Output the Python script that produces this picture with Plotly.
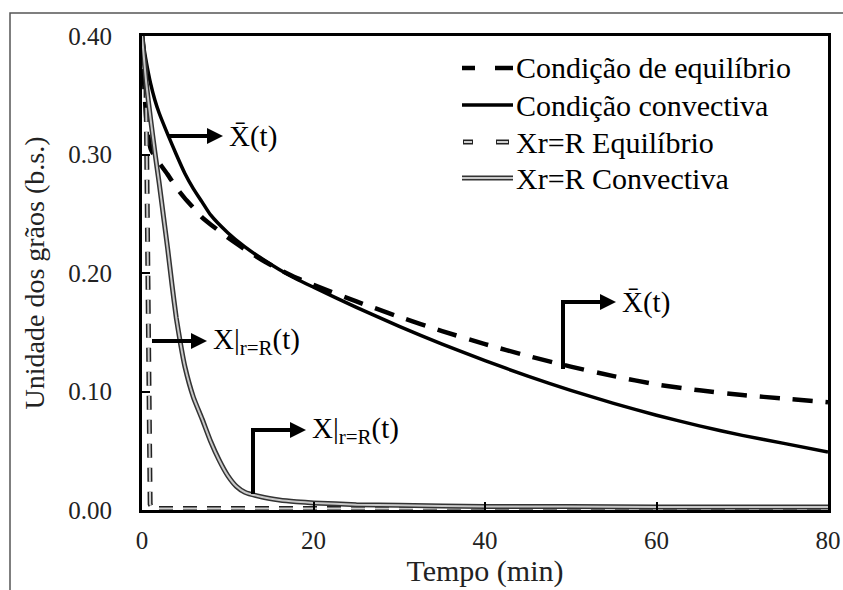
import plotly.graph_objects as go

# ---------------- data ----------------
t_main = [0, 0.5, 1, 1.5, 2, 3, 4, 5, 6, 7, 8, 10, 12, 14, 16, 18, 20, 25, 30,
          35, 40, 45, 50, 55, 60, 65, 70, 75, 80]
x_conv = [0.400, 0.378, 0.360, 0.346, 0.335, 0.317, 0.300, 0.284, 0.271, 0.260,
          0.249, 0.234, 0.222, 0.212, 0.203, 0.195, 0.188, 0.171, 0.155, 0.140,
          0.126, 0.113, 0.101, 0.090, 0.080, 0.071, 0.063, 0.056, 0.049]
x_equi = [0.400, 0.330, 0.305, 0.298, 0.293, 0.283, 0.272, 0.263, 0.255, 0.247,
          0.241, 0.230, 0.220, 0.211, 0.203, 0.196, 0.190, 0.176, 0.163, 0.151,
          0.140, 0.130, 0.121, 0.113, 0.106, 0.101, 0.097, 0.094, 0.091]

t_surf_conv = [0, 0.5, 1, 1.5, 2, 2.5, 3, 3.5, 4, 4.5, 5, 6, 7, 8, 9, 10, 11, 12,
               14, 16, 18, 20, 25, 30, 40, 50, 60, 70, 80]
x_surf_conv = [0.400, 0.360, 0.330, 0.302, 0.276, 0.248, 0.220, 0.190, 0.162,
               0.140, 0.121, 0.095, 0.077, 0.058, 0.042, 0.029, 0.020, 0.015,
               0.011, 0.0085, 0.007, 0.006, 0.0045, 0.004, 0.003, 0.003, 0.0025,
               0.0025, 0.0025]

t_surf_equi = [0, 0.45, 0.55, 0.65, 0.75, 0.85, 0.95, 1.2, 2, 5, 10, 20, 40, 60, 80]
x_surf_equi = [0.400, 0.370, 0.300, 0.220, 0.140, 0.060, 0.005, 0.0012, 0.0012,
               0.0012, 0.0012, 0.0012, 0.0012, 0.0012, 0.0012]

x_ticks = [0, 20, 40, 60, 80]
y_ticks = [0.0, 0.1, 0.2, 0.3, 0.4]
y_tick_text = ["0.00", "0.10", "0.20", "0.30", "0.40"]

legend_names = ["Condição de equilíbrio", "Condição convectiva",
                "Xr=R Equilíbrio", "Xr=R Convectiva"]

# ---------------- layout geometry ----------------
W, H = 843, 590
L, R, T, B = 142, 828, 36, 510
SERIF = "Liberation Serif"


def px(x):
    return (x - L) / (R - L)


def py(y):
    return (B - y) / (B - T)


fig = go.Figure()

fig.add_trace(go.Scatter(x=t_main, y=x_equi, mode="lines", name=legend_names[0],
                         line=dict(color="black", width=4.5, dash="20px,13px",
                                   shape="spline", smoothing=0.6),
                         showlegend=False))
fig.add_trace(go.Scatter(x=t_main, y=x_conv, mode="lines", name=legend_names[1],
                         line=dict(color="black", width=3.5, shape="spline",
                                   smoothing=0.6),
                         showlegend=False))
fig.add_trace(go.Scatter(x=t_surf_equi, y=x_surf_equi, mode="lines",
                         name=legend_names[2],
                         line=dict(color="#222", width=5, dash="14px,10px"),
                         showlegend=False))
fig.add_trace(go.Scatter(x=t_surf_equi, y=x_surf_equi, mode="lines",
                         name=legend_names[2] + " (centro)",
                         line=dict(color="#cfcfcf", width=2, dash="14px,10px"),
                         showlegend=False, hoverinfo="skip"))
fig.add_trace(go.Scatter(x=t_surf_conv, y=x_surf_conv, mode="lines",
                         name=legend_names[3],
                         line=dict(color="#333", width=5, shape="spline",
                                   smoothing=0.5),
                         showlegend=False))
fig.add_trace(go.Scatter(x=t_surf_conv, y=x_surf_conv, mode="lines",
                         name=legend_names[3] + " (centro)",
                         line=dict(color="#c8c8c8", width=2, shape="spline",
                                   smoothing=0.5),
                         showlegend=False, hoverinfo="skip"))

shapes = []
annotations = []

# outer grey frame
shapes.append(dict(type="rect", xref="paper", yref="paper",
                   x0=px(10), x1=px(860), y0=py(610), y1=py(13),
                   line=dict(color="#555", width=1.5), layer="above"))

# ---- custom legend ----
rows = [68, 105, 142, 178]
lx0, lx1 = 462, 513
for a, b in [(462, 475), (495, 513)]:
    shapes.append(dict(type="line", xref="paper", yref="paper",
                       x0=px(a), x1=px(b), y0=py(rows[0]), y1=py(rows[0]),
                       line=dict(color="black", width=4.5)))
shapes.append(dict(type="line", xref="paper", yref="paper",
                   x0=px(lx0), x1=px(lx1), y0=py(rows[1]), y1=py(rows[1]),
                   line=dict(color="black", width=3.5)))
for a, b in [(463, 473), (496, 509)]:
    shapes.append(dict(type="line", xref="paper", yref="paper",
                       x0=px(a), x1=px(b), y0=py(rows[2]), y1=py(rows[2]),
                       line=dict(color="#222", width=5)))
    shapes.append(dict(type="line", xref="paper", yref="paper",
                       x0=px(a + 1), x1=px(b - 1), y0=py(rows[2]), y1=py(rows[2]),
                       line=dict(color="#cfcfcf", width=2)))
shapes.append(dict(type="line", xref="paper", yref="paper",
                   x0=px(lx0), x1=px(lx1), y0=py(rows[3]), y1=py(rows[3]),
                   line=dict(color="#333", width=5)))
shapes.append(dict(type="line", xref="paper", yref="paper",
                   x0=px(lx0), x1=px(lx1), y0=py(rows[3]), y1=py(rows[3]),
                   line=dict(color="#c8c8c8", width=2)))
for name, yy in zip(legend_names, rows):
    annotations.append(dict(xref="paper", yref="paper", x=px(514), y=py(yy),
                            text=name, showarrow=False, xanchor="left",
                            yanchor="middle",
                            font=dict(family=SERIF, size=30, color="black")))


# ---- arrows with labels (pixel positions converted to data coords) ----
def tx(xp):
    return (xp - L) / (R - L) * 80


def ty(yp):
    return (B - yp) / (B - T) * 0.40


def arrow_label(x_tail, x_text, y, text):
    annotations.append(dict(x=tx(x_tail), y=ty(y), ax=tx(x_text), ay=ty(y),
                            xref="x", yref="y", axref="x", ayref="y",
                            text=text, xanchor="left", yanchor="middle",
                            showarrow=True, arrowside="start",
                            startarrowhead=2, startarrowsize=0.8,
                            arrowwidth=4, arrowcolor="black",
                            startstandoff=5, borderpad=0,
                            font=dict(family=SERIF, size=29, color="black")))


def vline(x, y_bot, y_top):
    shapes.append(dict(type="line", xref="x", yref="y",
                       x0=tx(x), x1=tx(x), y0=ty(y_bot), y1=ty(y_top - 2),
                       line=dict(color="black", width=4)))


XBAR = "X\u0304(t)"
XSURF = "X|<sub><span style='font-size:21px'>r=R</span></sub>(t)"

arrow_label(168, 228, 136, XBAR)
arrow_label(152, 212, 341, XSURF)

vline(253, 494, 430)
arrow_label(253, 311, 430, XSURF)

vline(563, 369, 302)
arrow_label(563, 621, 302, XBAR)

fig.update_layout(
    width=W, height=H,
    margin=dict(l=L, r=W - R, t=T, b=H - B, autoexpand=False),
    paper_bgcolor="white", plot_bgcolor="white",
    font=dict(family=SERIF, color="black"),
    shapes=shapes, annotations=annotations, showlegend=False,
    xaxis=dict(range=[0, 80], tickvals=x_ticks, ticks="inside", ticklen=8,
               tickwidth=1.5, tickcolor="black", showline=True, mirror=True,
               linewidth=3, linecolor="black", showgrid=False, zeroline=False,
               tickfont=dict(family=SERIF, size=25, color="#222"),
               ticklabelstandoff=6,
               title=dict(text="Tempo (min)", standoff=6,
                          font=dict(family=SERIF, size=30, color="#222"))),
    yaxis=dict(range=[0, 0.40], tickvals=y_ticks, ticktext=y_tick_text,
               ticks="inside", ticklen=8, tickwidth=1.5, tickcolor="black",
               showline=True, mirror=True, linewidth=3, linecolor="black",
               showgrid=False, zeroline=False,
               tickfont=dict(family=SERIF, size=25, color="#222"),
               ticklabelstandoff=22,
               title=dict(text="Unidade dos grãos (b.s.)", standoff=16,
                          font=dict(family=SERIF, size=28, color="#222"))),
)

fig.write_html("out.html", config={"displayModeBar": False},
               post_script="document.body.style.margin='0';"
                           "document.body.style.padding='0';")
